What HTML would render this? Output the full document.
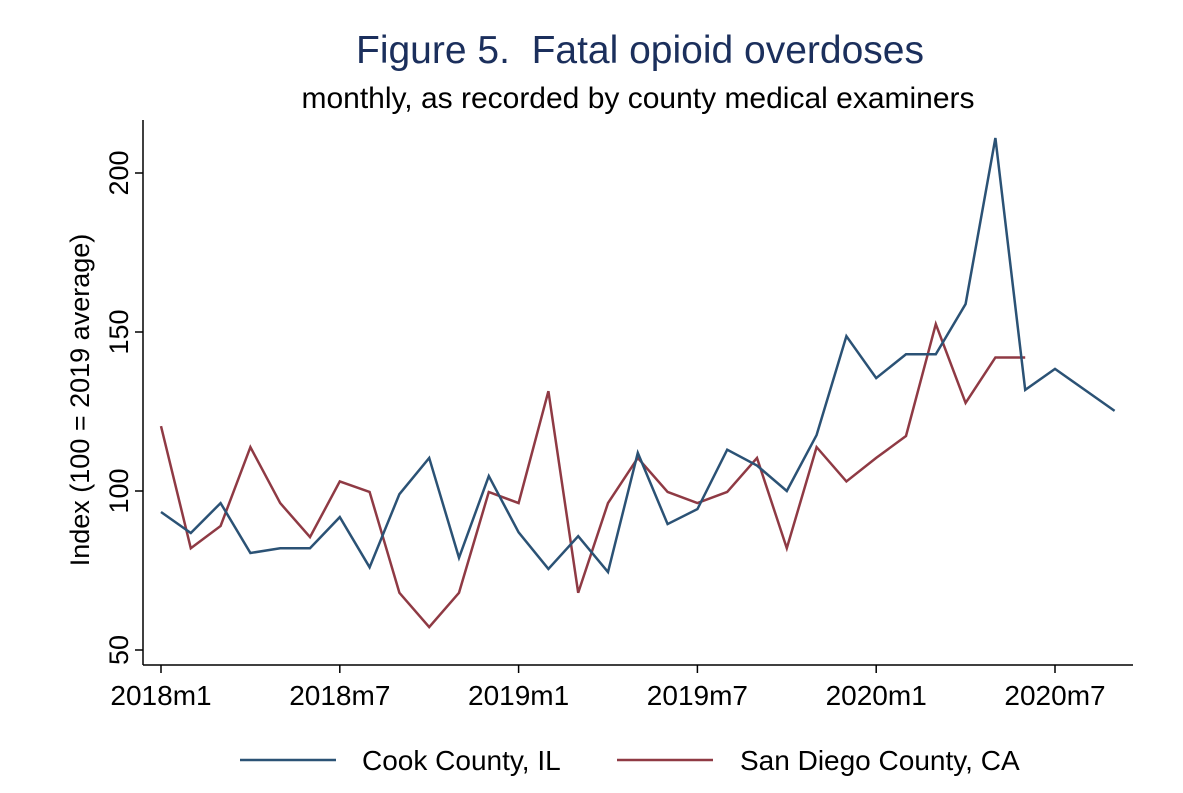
<!DOCTYPE html>
<html><head><meta charset="utf-8"><style>
body{margin:0;background:#fff}
svg text{font-family:"Liberation Sans",Arial,sans-serif}
</style></head><body>
<svg id="chart" width="1183" height="788">
<text x="640" y="63" text-anchor="middle" font-size="39" fill="#1b2f5c">Figure 5.&#160; Fatal opioid overdoses</text>
<text x="638" y="108" text-anchor="middle" font-size="30" fill="#000">monthly, as recorded by county medical examiners</text>
<g id="axes"></g>
<g id="series"></g>
<g>
<line x1="240" y1="760" x2="336" y2="760" stroke="#2b5275" stroke-width="2.5"/>
<text x="362" y="770" font-size="28">Cook County, IL</text>
<line x1="617" y1="760" x2="713" y2="760" stroke="#8f3a44" stroke-width="2.5"/>
<text x="740" y="770" font-size="28">San Diego County, CA</text>
</g>
</svg>
<script>
const cookValues=[93.4,86.8,96.2,80.5,82,82,91.8,76,99,110.4,79,104.7,87,75.5,85.8,74.5,112,89.6,94.3,113,108,100,117.6,148.7,135.5,143,143,158.8,211,131.8,138.4,131.8,125.2];
const sanDiegoValues=[120.4,82,89,113.8,96.2,85.5,103,99.7,68,57.2,68,99.7,96.2,131.4,68,96.2,110.4,99.7,96.2,99.7,110.4,82,113.8,103,110.4,117.3,152.5,127.7,142,142];
const yTicks=[50,100,150,200];
const xTickMonths=[0,6,12,18,24,30];
const xTickLabels=["2018m1","2018m7","2019m1","2019m7","2020m1","2020m7"];
const NS="http://www.w3.org/2000/svg";
function xs(m){return 161+m*(1055-161)/30;}
function ys(v){return 491-(v-100)*(491-173)/100;}
function mk(tag,attrs,parent){const e=document.createElementNS(NS,tag);for(const k in attrs)e.setAttribute(k,attrs[k]);parent.appendChild(e);return e;}
const axes=document.getElementById('axes');
let a=mk('line',{x1:143,y1:120,x2:143,y2:665,stroke:'#000','stroke-width':1.5},axes);


a=mk('line',{x1:143,y1:665,x2:1133,y2:665,stroke:'#000','stroke-width':1.5},axes);


yTicks.forEach(v=>{
 const y=ys(v);
 const t=mk('line',{x1:135,y1:y,x2:143,y2:y,stroke:'#000','stroke-width':1.5},axes);
 
 
 const l=mk('text',{x:0,y:0,'font-size':27,'text-anchor':'middle',transform:`translate(128,${y}) rotate(-90)`},axes);
 l.textContent=v;
 
 
});
const yt=mk('text',{x:0,y:0,'font-size':27,'text-anchor':'middle',transform:'translate(89,400) rotate(-90)'},axes);
yt.textContent='Index (100 = 2019 average)';


xTickMonths.forEach((m,i)=>{
 const x=xs(m);
 const t=mk('line',{x1:x,y1:665,x2:x,y2:673,stroke:'#000','stroke-width':1.5},axes);
 
 
 const l=mk('text',{x:x,y:705,'font-size':28,'text-anchor':'middle'},axes);
 l.textContent=xTickLabels[i];
 
 
});
const ser=document.getElementById('series');
function line(vals,color,name){
 const p=mk('polyline',{points:vals.map((v,i)=>xs(i)+','+ys(v)).join(' '),fill:'none',stroke:color,'stroke-width':2.5,'stroke-linejoin':'miter'},ser);
 
 
}
line(sanDiegoValues,'#8f3a44','sandiego-line');
line(cookValues,'#2b5275','cook-line');
</script>
</body></html>
